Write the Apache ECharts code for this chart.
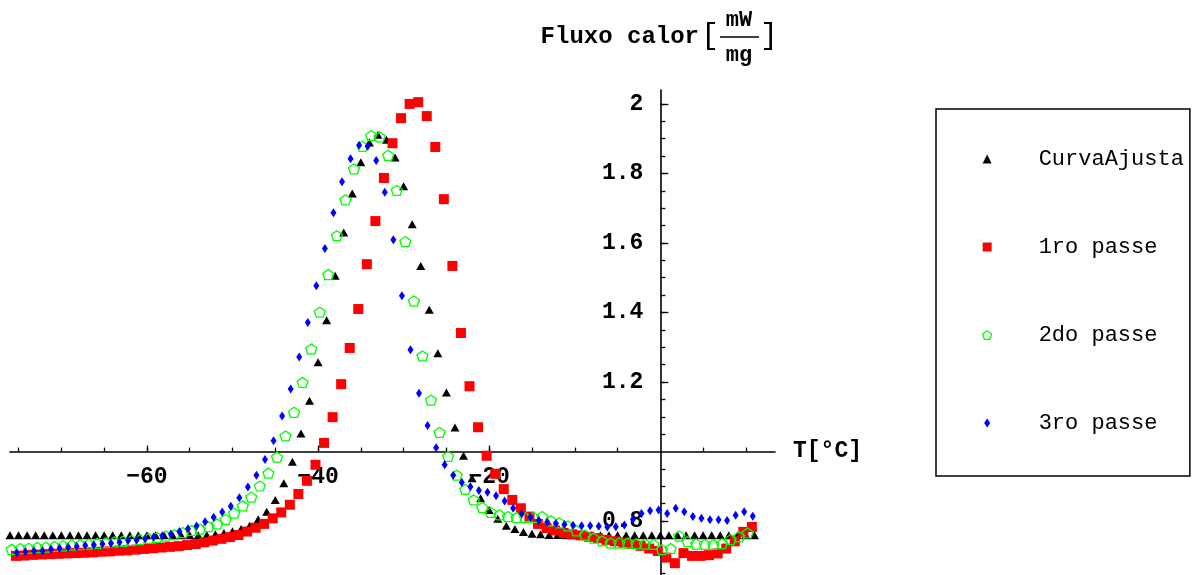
<!DOCTYPE html>
<html>
<head>
<meta charset="utf-8">
<script src="https://cdn.jsdelivr.net/npm/echarts@6/dist/echarts.min.js"></script>
<style>
  html, body { margin: 0; padding: 0; background: #fff; }
  #chart { width: 1195px; height: 575px; }
</style>
</head>
<body>
<div id="chart"></div>
<script>
// Heat flow (mW/mg) against temperature (°C): fitted curve and three DSC passes.
const seriesNames = ['CurvaAjusta', '1ro passe', '2do passe', '3ro passe'];

const curvaAjusta = [
  [-76,0.759],[-75,0.759],[-74,0.759],[-73,0.759],[-72,0.759],[-71,0.759],[-70,0.759],[-69,0.759],
  [-68,0.759],[-67,0.759],[-66,0.759],[-65,0.759],[-64,0.759],[-63,0.759],[-62,0.759],[-61,0.759],
  [-60,0.759],[-59,0.759],[-58,0.759],[-57,0.759],[-56,0.759],[-55,0.759],[-54,0.759],[-53,0.760],
  [-52,0.762],[-51,0.766],[-50,0.771],[-49,0.777],[-48,0.787],[-47,0.805],[-46,0.827],[-45,0.861],
  [-44,0.909],[-43,0.971],[-42,1.052],[-41,1.146],[-40,1.257],[-39,1.378],[-38,1.506],[-37,1.630],
  [-36,1.742],[-35,1.832],[-34,1.889],[-33,1.911],[-32,1.897],[-31,1.846],[-30,1.763],[-29,1.654],
  [-28,1.534],[-27,1.408],[-26,1.283],[-25,1.170],[-24,1.069],[-23,0.988],[-22,0.923],[-21,0.866],
  [-20,0.832],[-19,0.807],[-18,0.787],[-17,0.777],[-16,0.769],[-15,0.764],[-14,0.762],[-13,0.760],
  [-12,0.760],[-11,0.759],[-10,0.759],[-9,0.759],[-8,0.759],[-7,0.759],[-6,0.759],[-5,0.759],
  [-4,0.759],[-3,0.759],[-2,0.759],[-1,0.759],[0,0.759],[1,0.759],[2,0.759],[3,0.759],
  [4,0.759],[5,0.759],[6,0.759],[7,0.759],[8,0.759],[9,0.759],[10,0.759],[11,0.759]
];

const passe1 = [
  [-75.3,0.700],[-74.3,0.701],[-73.3,0.703],[-72.3,0.704],[-71.3,0.705],[-70.3,0.706],[-69.3,0.707],
  [-68.3,0.708],[-67.3,0.709],[-66.3,0.710],[-65.3,0.712],[-64.3,0.713],[-63.3,0.715],[-62.3,0.716],
  [-61.3,0.718],[-60.3,0.720],[-59.3,0.722],[-58.3,0.724],[-57.3,0.726],[-56.3,0.728],[-55.3,0.731],
  [-54.3,0.734],[-53.3,0.739],[-52.3,0.744],[-51.3,0.749],[-50.3,0.754],[-49.3,0.760],[-48.3,0.770],
  [-47.3,0.781],[-46.3,0.792],[-45.3,0.808],[-44.3,0.825],[-43.3,0.847],[-42.3,0.878],[-41.3,0.916],
  [-40.3,0.962],[-39.3,1.025],[-38.3,1.099],[-37.3,1.194],[-36.3,1.298],[-35.3,1.410],[-34.3,1.539],
  [-33.3,1.663],[-32.3,1.787],[-31.3,1.887],[-30.3,1.959],[-29.3,2.000],[-28.3,2.005],[-27.3,1.965],
  [-26.3,1.876],[-25.3,1.726],[-24.3,1.534],[-23.3,1.341],[-22.3,1.188],[-21.3,1.070],[-20.3,0.988],
  [-19.3,0.936],[-18.3,0.892],[-17.3,0.861],[-16.3,0.837],[-15.3,0.813],[-14.3,0.792],[-13.3,0.780],
  [-12.3,0.773],[-11.3,0.766],[-10.3,0.762],[-9.3,0.759],[-8.3,0.755],[-7.3,0.751],[-6.3,0.746],
  [-5.3,0.742],[-4.3,0.738],[-3.3,0.734],[-2.3,0.729],[-1.3,0.721],[-0.3,0.714],[0.7,0.695],
  [1.7,0.679],[2.7,0.708],[3.7,0.700],[4.7,0.700],[5.7,0.702],[6.7,0.707],[7.7,0.721],
  [8.7,0.742],[9.7,0.769],[10.7,0.783]
];

const passe2 = [
  [-75.8,0.719],[-74.8,0.721],[-73.8,0.722],[-72.8,0.724],[-71.8,0.725],[-70.8,0.727],[-69.8,0.729],
  [-68.8,0.731],[-67.8,0.732],[-66.8,0.734],[-65.8,0.736],[-64.8,0.738],[-63.8,0.740],[-62.8,0.742],
  [-61.8,0.744],[-60.8,0.747],[-59.8,0.750],[-58.8,0.753],[-57.8,0.757],[-56.8,0.761],[-55.8,0.767],
  [-54.8,0.773],[-53.8,0.777],[-52.8,0.784],[-51.8,0.792],[-50.8,0.805],[-49.8,0.823],[-48.8,0.844],
  [-47.8,0.869],[-46.8,0.901],[-45.8,0.938],[-44.8,0.984],[-43.8,1.045],[-42.8,1.113],[-41.8,1.199],
  [-40.8,1.295],[-39.8,1.401],[-38.8,1.509],[-37.8,1.621],[-36.8,1.724],[-35.8,1.813],[-34.8,1.878],
  [-33.8,1.909],[-32.8,1.905],[-31.8,1.852],[-30.8,1.751],[-29.8,1.604],[-28.8,1.433],[-27.8,1.275],
  [-26.8,1.148],[-25.8,1.055],[-24.8,0.986],[-23.8,0.932],[-22.8,0.891],[-21.8,0.861],[-20.8,0.839],
  [-19.8,0.825],[-18.8,0.818],[-17.8,0.813],[-16.8,0.810],[-15.8,0.810],[-14.8,0.811],[-13.8,0.813],
  [-12.8,0.801],[-11.8,0.795],[-10.8,0.786],[-9.8,0.772],[-8.8,0.760],[-7.8,0.751],[-6.8,0.743],
  [-5.8,0.737],[-4.8,0.737],[-3.8,0.737],[-2.8,0.735],[-1.8,0.734],[-0.8,0.733],[0.2,0.718],
  [1.2,0.721],[2.2,0.757],[3.2,0.741],[4.2,0.734],[5.2,0.733],[6.2,0.733],[7.2,0.735],
  [8.2,0.747],[9.2,0.755],[10.2,0.766]
];

const passe3 = [
  [-75.2,0.709],[-74.2,0.712],[-73.2,0.714],[-72.2,0.715],[-71.2,0.719],[-70.2,0.722],[-69.2,0.725],
  [-68.2,0.727],[-67.2,0.730],[-66.2,0.731],[-65.2,0.734],[-64.2,0.736],[-63.2,0.739],[-62.2,0.744],
  [-61.2,0.746],[-60.2,0.749],[-59.2,0.754],[-58.2,0.758],[-57.2,0.763],[-56.2,0.770],[-55.2,0.778],
  [-54.2,0.786],[-53.2,0.798],[-52.2,0.811],[-51.2,0.826],[-50.2,0.843],[-49.2,0.867],[-48.2,0.898],
  [-47.2,0.932],[-46.2,0.977],[-45.2,1.031],[-44.2,1.102],[-43.2,1.180],[-42.2,1.272],[-41.2,1.371],
  [-40.2,1.477],[-39.2,1.584],[-38.2,1.687],[-37.2,1.776],[-36.2,1.842],[-35.2,1.881],[-34.2,1.878],
  [-33.2,1.837],[-32.2,1.746],[-31.2,1.609],[-30.2,1.448],[-29.2,1.293],[-28.2,1.168],[-27.2,1.075],
  [-26.2,1.011],[-25.2,0.962],[-24.2,0.932],[-23.2,0.911],[-22.2,0.899],[-21.2,0.888],[-20.2,0.883],
  [-19.2,0.873],[-18.2,0.858],[-17.2,0.837],[-16.2,0.821],[-15.2,0.811],[-14.2,0.802],[-13.2,0.797],
  [-12.2,0.793],[-11.2,0.790],[-10.2,0.788],[-9.2,0.787],[-8.2,0.787],[-7.2,0.785],[-6.2,0.783],
  [-5.2,0.784],[-4.2,0.789],[-3.2,0.805],[-2.2,0.822],[-1.2,0.830],[-0.2,0.832],[0.8,0.822],
  [1.8,0.837],[2.8,0.827],[3.8,0.813],[4.8,0.808],[5.8,0.804],[6.8,0.804],[7.8,0.802],
  [8.8,0.817],[9.8,0.827],[10.8,0.814]
];

// Axis ranges, tick positions and tick labels
const tRange = [-76, 13.4];
const fluxRange = [0.645, 2.04];
const axisCrossT = 0;      // the heat-flow axis is drawn at this temperature
const axisCrossFlux = 1;   // the temperature axis is drawn through this heat-flow value
const xTickValues = [-75, -70, -65, -60, -55, -50, -45, -40, -35, -30, -25, -20, -15, -10, -5, 5, 10];
const xLabelValues = [-60, -40, -20];
const xLabelTexts = ['\u221260', '\u221240', '\u221220'];
const yTickValues = [0.65, 0.7, 0.75, 0.8, 0.85, 0.9, 0.95, 1.05, 1.1, 1.15, 1.2, 1.25, 1.3, 1.35,
                     1.4, 1.45, 1.5, 1.55, 1.6, 1.65, 1.7, 1.75, 1.8, 1.85, 1.9, 1.95, 2.0];
const yLabelValues = [0.8, 1.2, 1.4, 1.6, 1.8, 2];
const yLabelTexts = ['0.8', '1.2', '1.4', '1.6', '1.8', '2'];

// Plot frame in the 1195 x 575 canvas
const W = 1195, H = 575;
const plot = { left: 10, right: 775, top: 90, bottom: 575 };

// Pixel positions of the two crossing axes, from the axis ranges
const yAxisX = plot.left + (axisCrossT - tRange[0]) / (tRange[1] - tRange[0]) * (plot.right - plot.left);
const xAxisY = plot.bottom - (axisCrossFlux - fluxRange[0]) / (fluxRange[1] - fluxRange[0]) * (plot.bottom - plot.top);

const MONO = '"Liberation Mono", "Courier New", monospace';
const pentagonPath = 'path://M5,0L9.755,3.455L7.939,9.045L2.061,9.045L0.245,3.455Z';
const diamondPath = 'path://M3,0L6,4.5L3,9L0,4.5Z';

function pickLabel(values, texts) {
  return function (v) {
    for (let i = 0; i < values.length; i++) {
      if (Math.abs(values[i] - v) < 1e-9) return texts[i];
    }
    return '';
  };
}

const tickLabelStyle = { color: '#000', fontFamily: MONO, fontWeight: 'bold', fontSize: 23 };
const axisLineStyle = { color: '#000', width: 1.6 };
const tickLineStyle = { color: '#000', width: 1.3 };

function gridRect(left, bottom) {
  return { left: left, right: W - plot.right, top: plot.top, bottom: bottom,
           outerBoundsMode: 'none', containLabel: false };
}

const chart = echarts.init(document.getElementById('chart'), null, { renderer: 'canvas' });

chart.setOption({
  animation: false,
  backgroundColor: '#fff',
  grid: [
    gridRect(plot.left, H - plot.bottom),   // 0: data area
    gridRect(yAxisX, H - plot.bottom),      // 1: heat-flow axis (left edge at T = 0), minor ticks + labels
    gridRect(plot.left, H - xAxisY),        // 2: temperature axis (bottom edge at flux = 1), minor ticks + labels
    gridRect(yAxisX, H - plot.bottom),      // 3: heat-flow axis, labelled (major) ticks
    gridRect(plot.left, H - xAxisY)         // 4: temperature axis, labelled (major) ticks
  ],
  xAxis: [
    { type: 'value', gridIndex: 0, min: tRange[0], max: tRange[1], show: false },
    { type: 'value', gridIndex: 1, min: axisCrossT, max: tRange[1], show: false },
    {
      type: 'value', gridIndex: 2, position: 'bottom', min: tRange[0], max: tRange[1],
      name: 'T[°C]', nameLocation: 'end', nameGap: 18,
      nameTextStyle: { color: '#000', fontFamily: MONO, fontWeight: 'bold', fontSize: 23,
                       verticalAlign: 'middle', align: 'left' },
      axisLine: { show: true, onZero: false, lineStyle: axisLineStyle },
      axisTick: { show: true, inside: true, length: 4, customValues: xTickValues, lineStyle: tickLineStyle },
      axisLabel: Object.assign({ show: true, margin: 14, customValues: xLabelValues,
                                 formatter: pickLabel(xLabelValues, xLabelTexts) }, tickLabelStyle),
      splitLine: { show: false }
    },
    { type: 'value', gridIndex: 3, min: axisCrossT, max: tRange[1], show: false },
    {
      type: 'value', gridIndex: 4, position: 'bottom', min: tRange[0], max: tRange[1],
      axisLine: { show: false, onZero: false },
      axisTick: { show: true, inside: true, length: 6, customValues: xLabelValues, lineStyle: tickLineStyle },
      axisLabel: { show: false },
      splitLine: { show: false }
    }
  ],
  yAxis: [
    { type: 'value', gridIndex: 0, min: fluxRange[0], max: fluxRange[1], show: false },
    {
      type: 'value', gridIndex: 1, position: 'left', min: fluxRange[0], max: fluxRange[1],
      axisLine: { show: true, onZero: false, lineStyle: axisLineStyle },
      axisTick: { show: true, inside: true, length: 5, customValues: yTickValues, lineStyle: tickLineStyle },
      axisLabel: Object.assign({ show: true, margin: 17, customValues: yLabelValues,
                                 formatter: pickLabel(yLabelValues, yLabelTexts) }, tickLabelStyle),
      splitLine: { show: false }
    },
    { type: 'value', gridIndex: 2, min: axisCrossFlux, max: fluxRange[1], show: false },
    {
      type: 'value', gridIndex: 3, position: 'left', min: fluxRange[0], max: fluxRange[1],
      axisLine: { show: false, onZero: false },
      axisTick: { show: true, inside: true, length: 8, customValues: yLabelValues, lineStyle: tickLineStyle },
      axisLabel: { show: false },
      splitLine: { show: false }
    },
    { type: 'value', gridIndex: 4, min: axisCrossFlux, max: fluxRange[1], show: false }
  ],
  legend: {
    orient: 'vertical',
    left: 936, top: 109,
    padding: [39, 6, 42, 46],
    itemWidth: 9, itemHeight: 9, itemGap: 66,
    borderColor: '#000', borderWidth: 1.5, borderRadius: 0,
    selectedMode: false,
    textStyle: { color: '#000', fontFamily: MONO, fontSize: 22, lineHeight: 22, padding: [0, 0, 0, 42] },
    data: [
      { name: seriesNames[0], icon: 'triangle', itemStyle: { color: '#000' } },
      { name: seriesNames[1], icon: 'rect', itemStyle: { color: '#ff0000' } },
      { name: seriesNames[2], icon: pentagonPath,
        itemStyle: { color: 'rgba(0,0,0,0)', borderColor: '#00ff00', borderWidth: 1.3 } },
      { name: seriesNames[3], icon: diamondPath, itemStyle: { color: '#0000ff' } }
    ]
  },
  graphic: [
    { type: 'text', x: 699, y: 37,
      style: { text: 'Fluxo calor', align: 'right', verticalAlign: 'middle', fill: '#000',
               font: 'bold 24px ' + MONO } },
    { type: 'text', x: 710, y: 36,
      style: { text: '[', align: 'center', verticalAlign: 'middle', fill: '#000',
               font: '30px ' + MONO } },
    { type: 'text', x: 739, y: 20,
      style: { text: 'mW', align: 'center', verticalAlign: 'middle', fill: '#000',
               font: 'bold 22px ' + MONO } },
    { type: 'line', shape: { x1: 720, y1: 37, x2: 759, y2: 37 },
      style: { stroke: '#000', lineWidth: 1.5 } },
    { type: 'text', x: 739, y: 55,
      style: { text: 'mg', align: 'center', verticalAlign: 'middle', fill: '#000',
               font: 'bold 22px ' + MONO } },
    { type: 'text', x: 769, y: 36,
      style: { text: ']', align: 'center', verticalAlign: 'middle', fill: '#000',
               font: '30px ' + MONO } }
  ],
  series: [
    { name: seriesNames[0], type: 'scatter', xAxisIndex: 0, yAxisIndex: 0,
      data: curvaAjusta, symbol: 'triangle', symbolSize: [9, 8],
      itemStyle: { color: '#000', opacity: 1 }, emphasis: { disabled: true } },
    { name: seriesNames[1], type: 'scatter', xAxisIndex: 0, yAxisIndex: 0,
      data: passe1, symbol: 'rect', symbolSize: 10,
      itemStyle: { color: '#ff0000', opacity: 1 }, emphasis: { disabled: true } },
    { name: seriesNames[2], type: 'scatter', xAxisIndex: 0, yAxisIndex: 0,
      data: passe2, symbol: pentagonPath, symbolSize: [11, 10],
      itemStyle: { color: 'rgba(0,0,0,0)', borderColor: '#00ff00', borderWidth: 1.3, opacity: 1 },
      emphasis: { disabled: true } },
    { name: seriesNames[3], type: 'scatter', xAxisIndex: 0, yAxisIndex: 0,
      data: passe3, symbol: 'diamond', symbolSize: [6, 9],
      itemStyle: { color: '#0000ff', opacity: 1 }, emphasis: { disabled: true } }
  ]
});
</script>
</body>
</html>
